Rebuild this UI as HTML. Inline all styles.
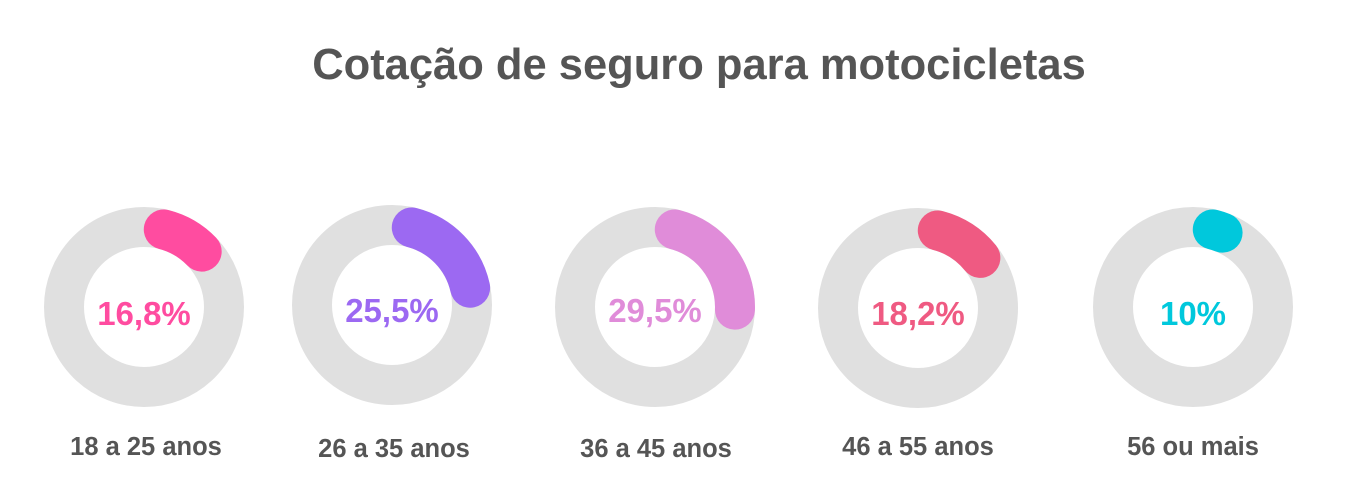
<!DOCTYPE html>
<html><head><meta charset="utf-8"><style>
body{margin:0;background:#fff;width:1359px;height:492px;overflow:hidden;font-family:"Liberation Sans",sans-serif}
</style></head><body>
<svg width="1359" height="492" xmlns="http://www.w3.org/2000/svg" font-family="Liberation Sans, sans-serif" font-weight="bold">
<text x="699" y="79" text-anchor="middle" font-size="43.5" fill="#555">Cotação de seguro para motocicletas</text>
<g fill="none" stroke-width="40" stroke-linecap="round">
<circle cx="144" cy="307" r="80" stroke="#e0e0e0"/>
<circle cx="144" cy="307" r="80" stroke="#ff4ca0" stroke-dasharray="44.4 1000" stroke-dashoffset="-20" transform="rotate(-90 144 307)"/>
<circle cx="392" cy="305" r="80" stroke="#e0e0e0"/>
<circle cx="392" cy="305" r="80" stroke="#9c69f2" stroke-dasharray="88.2 1000" stroke-dashoffset="-20" transform="rotate(-90 392 305)"/>
<circle cx="655" cy="307" r="80" stroke="#e0e0e0"/>
<circle cx="655" cy="307" r="80" stroke="#e08cd9" stroke-dasharray="108.3 1000" stroke-dashoffset="-20" transform="rotate(-90 655 307)"/>
<circle cx="918" cy="308" r="80" stroke="#e0e0e0"/>
<circle cx="918" cy="308" r="80" stroke="#ef5a82" stroke-dasharray="51.5 1000" stroke-dashoffset="-20" transform="rotate(-90 918 308)"/>
<circle cx="1193" cy="307" r="80" stroke="#e0e0e0"/>
<circle cx="1193" cy="307" r="80" stroke="#00c8dc" stroke-dasharray="10.3 1000" stroke-dashoffset="-20" transform="rotate(-90 1193 307)"/>
</g>
<g font-size="33" text-anchor="middle">
<text x="144" y="325" fill="#ff4ca0">16,8%</text>
<text x="392" y="322" fill="#9c69f2">25,5%</text>
<text x="655" y="322" fill="#e08cd9">29,5%</text>
<text x="918" y="325" fill="#ef5a82">18,2%</text>
<text x="1193" y="325" fill="#00c8dc">10%</text>
</g>
<g font-size="25.5" text-anchor="middle" fill="#555">
<text x="146" y="455">18 a 25 anos</text>
<text x="394" y="457">26 a 35 anos</text>
<text x="656" y="457">36 a 45 anos</text>
<text x="918" y="455">46 a 55 anos</text>
<text x="1193" y="455">56 ou mais</text>
</g>
</svg>
</body></html>
